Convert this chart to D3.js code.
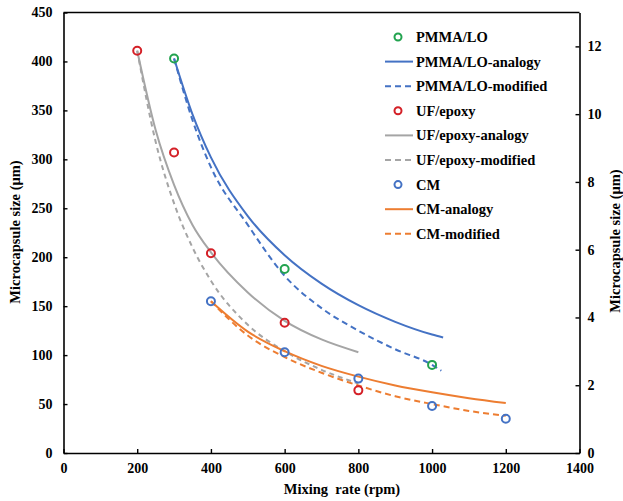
<!DOCTYPE html>
<html>
<head>
<meta charset="utf-8">
<script src="https://cdn.jsdelivr.net/npm/d3@7"></script>
<style>
  body { margin: 0; background: #fff; }
  svg text { font-family: 'Liberation Serif', 'DejaVu Serif', serif; font-weight: bold; }
</style>
</head>
<body>
<svg id="chart" width="623" height="501"></svg>
<script>
// measured points
const pmmaX = [300, 600, 1000];
const pmmaY = [403, 188, 90];
const ufX = [200, 300, 400, 600, 800];
const ufY = [411, 307, 204, 133, 64];
const cmX = [400, 600, 800, 1000, 1200];
const cmY = [155, 103, 76, 48, 35];

// fitted curves
const pmmaAnalogyX = [300, 350, 400, 500, 600, 700, 800, 900, 1000, 1030];
const pmmaAnalogyY = [403, 346, 302, 242, 202, 173, 151, 134, 121, 118];
const pmmaModifiedX = [300, 350, 400, 500, 600, 700, 800, 900, 1000, 1025];
const pmmaModifiedY = [403, 340, 292, 233, 181, 148, 125, 106, 90, 84];
const ufAnalogyX = [200, 250, 300, 350, 400, 500, 600, 700, 800];
const ufAnalogyY = [411, 330, 274, 233, 205, 164, 135, 116, 103];
const ufModifiedX = [200, 250, 300, 350, 400, 500, 600, 700, 800];
const ufModifiedY = [411, 318, 255, 210, 176, 131, 104, 85, 71];
const cmAnalogyX = [400, 500, 600, 700, 800, 900, 1000, 1100, 1200];
const cmAnalogyY = [155, 124, 104, 89, 78, 69, 62, 56, 51];
const cmModifiedX = [400, 500, 600, 700, 800, 900, 1000, 1100, 1200];
const cmModifiedY = [155, 120, 98, 82, 69, 58, 50, 43, 38];

const xTicks = [0, 200, 400, 600, 800, 1000, 1200, 1400];
const yTicks = [0, 50, 100, 150, 200, 250, 300, 350, 400, 450];
const y2Ticks = [0, 2, 4, 6, 8, 10, 12];

const legendLabels = ['PMMA/LO', 'PMMA/LO-analogy', 'PMMA/LO-modified',
  'UF/epoxy', 'UF/epoxy-analogy', 'UF/epoxy-modified',
  'CM', 'CM-analogy', 'CM-modified'];

const colors = {
  green: '#22a34f', red: '#d42027', blue: '#4472c4',
  gray: '#a5a5a5', orange: '#ed7d31'
};

const serif = "'Liberation Serif', 'DejaVu Serif', serif";

const svg = d3.select('#chart');
const plotLeft = 63.5, plotRight = 579.5, plotTop = 12.5, plotBottom = 453;

const x = d3.scaleLinear().domain([0, 1400]).range([plotLeft, plotRight]);
const y = d3.scaleLinear().domain([0, 450]).range([plotBottom, plotTop]);
const y2 = d3.scaleLinear().domain([0, 13]).range([plotBottom, plotTop]);

const zip = (xs, ys) => xs.map((v, i) => [v, ys[i]]);

//axes
const styleAxis = g => {
  g.select('.domain').attr('stroke', '#000').attr('stroke-width', 1.6);
  g.selectAll('.tick line').attr('stroke', '#000').attr('stroke-width', 1.4);
  g.selectAll('.tick text').attr('fill', '#000')
    .attr('font-family', serif).attr('font-weight', 'bold').attr('font-size', 14);
};

svg.append('g')
  .attr('transform', `translate(0,${plotBottom})`)
  .call(d3.axisBottom(x).tickValues(xTicks).tickFormat(d3.format('d'))
    .tickSize(-4).tickSizeOuter(0).tickPadding(10))
  .call(styleAxis);

svg.append('g')
  .attr('transform', `translate(${plotLeft},0)`)
  .call(d3.axisLeft(y).tickValues(yTicks).tickSize(-4).tickSizeOuter(0).tickPadding(11))
  .call(styleAxis);

svg.append('g')
  .attr('transform', `translate(${plotRight},0)`)
  .call(d3.axisRight(y2).tickValues(y2Ticks).tickSize(-4).tickSizeOuter(0).tickPadding(8))
  .call(styleAxis);

// top border
svg.append('line')
  .attr('x1', plotLeft).attr('x2', plotRight)
  .attr('y1', plotTop).attr('y2', plotTop)
  .attr('stroke', '#000').attr('stroke-width', 1.6);

// titles
const title = (sel) => sel
  .attr('text-anchor', 'middle')
  .attr('font-family', serif)
  .attr('font-weight', 'bold')
  .attr('font-size', 14.5);

svg.append('text')
  .attr('x', 342).attr('y', 494)
  .call(title)
  .style('white-space', 'pre')
  .text('Mixing  rate (rpm)');

svg.append('text')
  .attr('transform', 'translate(20,232) rotate(-90)')
  .call(title)
  .text('Microcapsule size (μm)');

svg.append('text')
  .attr('transform', 'translate(620,241) rotate(-90)')
  .call(title)
  .text('Microcapsule size (μm)');

//curves
const line = d3.line()
  .x(d => x(d[0]))
  .y(d => y(d[1]))
  .curve(d3.curveMonotoneX);

const curves = [
  { data: zip(pmmaAnalogyX, pmmaAnalogyY), color: colors.blue, dash: null },
  { data: zip(pmmaModifiedX, pmmaModifiedY), color: colors.blue, dash: '6,4' },
  { data: zip(ufAnalogyX, ufAnalogyY), color: colors.gray, dash: null },
  { data: zip(ufModifiedX, ufModifiedY), color: colors.gray, dash: '5,4' },
  { data: zip(cmAnalogyX, cmAnalogyY), color: colors.orange, dash: null },
  { data: zip(cmModifiedX, cmModifiedY), color: colors.orange, dash: '6,4' }
];

svg.append('g')
  .selectAll('path')
  .data(curves)
  .join('path')
  .attr('d', d => line(d.data))
  .attr('fill', 'none')
  .attr('stroke', d => d.color)
  .attr('stroke-width', 2)
  .attr('stroke-dasharray', d => d.dash);

// markers
const pointSets = [
  { data: zip(pmmaX, pmmaY), color: colors.green },
  { data: zip(ufX, ufY), color: colors.red },
  { data: zip(cmX, cmY), color: colors.blue }
];

pointSets.forEach(set => {
  svg.append('g')
    .selectAll('circle')
    .data(set.data)
    .join('circle')
    .attr('cx', d => x(d[0]))
    .attr('cy', d => y(d[1]))
    .attr('r', 4)
    .attr('fill', 'none')
    .attr('stroke', set.color)
    .attr('stroke-width', 2);
});

//legend
const legendItems = [
  { kind: 'point', color: colors.green },
  { kind: 'line', color: colors.blue, dash: null },
  { kind: 'line', color: colors.blue, dash: '6,4' },
  { kind: 'point', color: colors.red },
  { kind: 'line', color: colors.gray, dash: null },
  { kind: 'line', color: colors.gray, dash: '6,4' },
  { kind: 'point', color: colors.blue },
  { kind: 'line', color: colors.orange, dash: null },
  { kind: 'line', color: colors.orange, dash: '6,4' }
];

const legend = svg.append('g');
legendItems.forEach((item, i) => {
  const cy = 37 + i * 24.6;
  const g = legend.append('g');
  if (item.kind === 'point') {
    g.append('circle')
      .attr('cx', 398).attr('cy', cy).attr('r', 3.5)
      .attr('fill', 'none').attr('stroke', item.color).attr('stroke-width', 2);
  } else {
    g.append('line')
      .attr('x1', 385).attr('x2', 413)
      .attr('y1', cy).attr('y2', cy)
      .attr('stroke', item.color).attr('stroke-width', 2)
      .attr('stroke-dasharray', item.dash);
  }
  g.append('text')
    .attr('x', 416).attr('y', cy + 5)
    .attr('font-family', serif)
    .attr('font-weight', 'bold')
    .attr('font-size', 14.5)
    .text(legendLabels[i]);
});
</script>
</body>
</html>
